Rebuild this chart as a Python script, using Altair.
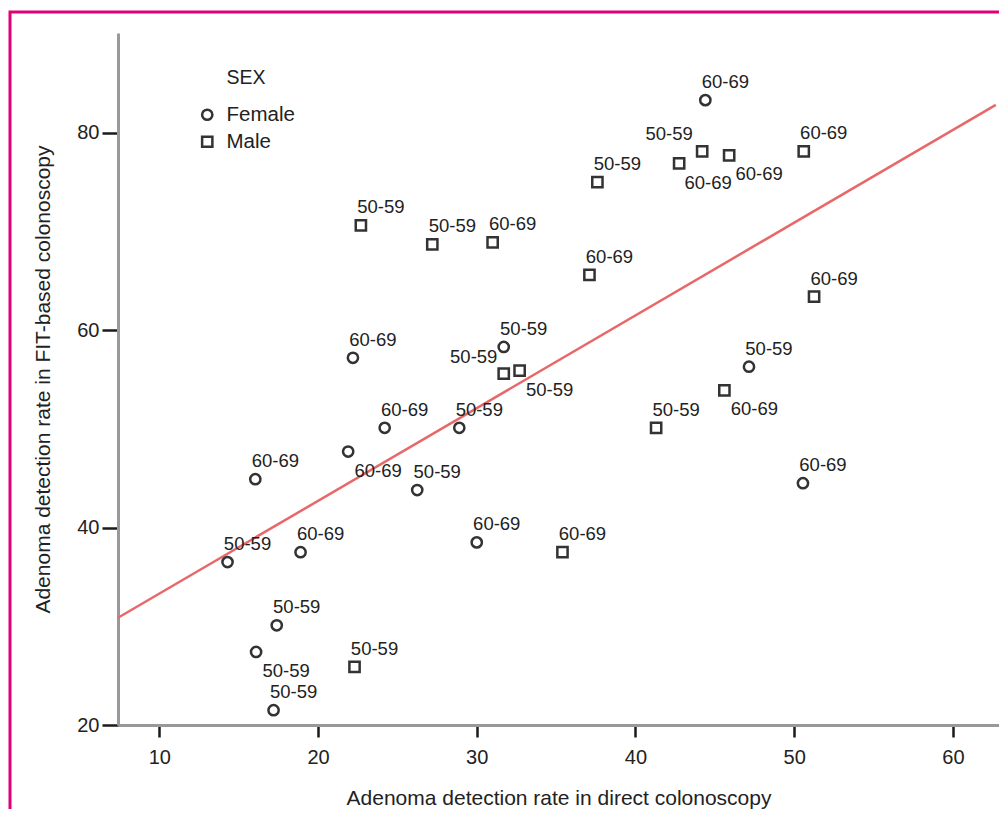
import altair as alt
import pandas as pd

# ---- data ----
sex = ["Female"] * 16 + ["Male"] * 16
direct_rate = [44.4, 22.2, 31.7, 47.15, 24.2, 28.9, 21.9, 16.05, 26.25, 50.55, 30.0, 18.9, 14.3, 17.4, 16.1, 17.2,
               22.7, 27.2, 31.0, 37.6, 37.1, 42.75, 44.2, 45.9, 50.6, 51.25, 31.7, 32.7, 45.6, 41.3, 35.4, 22.3]
fit_rate = [83.3, 57.2, 58.3, 56.3, 50.1, 50.1, 47.7, 44.9, 43.8, 44.5, 38.5, 37.5, 36.5, 30.1, 27.4, 21.5,
            70.6, 68.7, 68.9, 75.0, 65.6, 76.9, 78.1, 77.7, 78.1, 63.4, 55.6, 55.9, 53.9, 50.1, 37.5, 25.9]
age_group = ["60-69", "60-69", "50-59", "50-59", "60-69", "50-59", "60-69", "60-69", "50-59", "60-69", "60-69",
             "60-69", "50-59", "50-59", "50-59", "50-59",
             "50-59", "50-59", "60-69", "50-59", "60-69", "50-59", "60-69", "60-69", "60-69", "60-69", "50-59",
             "50-59", "60-69", "50-59", "60-69", "50-59"]
label_side = ["ur", "ur", "ur", "ur", "ur", "ur", "dr", "ur", "ur", "ur", "ur", "ur", "ur", "ur", "dr", "ur",
              "ur", "ur", "ur", "ur", "ur", "u", "d", "dr", "ur", "ur", "ul", "dr", "dr", "ur", "ur", "ur"]
x_ticks = [10, 20, 30, 40, 50, 60]
y_ticks = [20, 40, 60, 80]

df = pd.DataFrame({"SEX": sex, "x": direct_rate, "y": fit_rate, "age": age_group, "side": label_side})

FONT = "Liberation Sans"
xscale = alt.Scale(domain=[7.4, 62.9], nice=False, zero=False)
yscale = alt.Scale(domain=[20, 90.1], nice=False, zero=False)

base = alt.Chart(df)

xenc = alt.X("x:Q", scale=xscale,
             axis=alt.Axis(values=x_ticks, title="Adenoma detection rate in direct colonoscopy",
                           tickSize=12, labelPadding=10, titlePadding=20))
yenc = alt.Y("y:Q", scale=yscale,
             axis=alt.Axis(values=y_ticks, title="Adenoma detection rate in FIT-based colonoscopy",
                           tickSize=16, labelPadding=3, titlePadding=23))

fit_line = base.transform_regression("x", "y", extent=[7.4, 62.7]).mark_line(
    color="#E8686A", strokeWidth=2.5
).encode(x=alt.X("x:Q", scale=xscale), y=alt.Y("y:Q", scale=yscale))

points = base.mark_point(filled=False, color="#333333", strokeWidth=2.5, size=105, opacity=1).encode(
    x=xenc, y=yenc,
    shape=alt.Shape("SEX:N", scale=alt.Scale(domain=["Female", "Male"], range=["circle", "square"]),
                    legend=alt.Legend(title="SEX", orient="none", legendX=79, legendY=36,
                                      titleAnchor="middle", titleFontSize=19.5, titleFontWeight="normal",
                                      titlePadding=16, labelFontSize=20.5, rowPadding=6, labelOffset=9,
                                      symbolSize=105, symbolStrokeWidth=2.5, symbolStrokeColor="#333333",
                                      padding=0))
)

offsets = {"ur": (20, -18), "dr": (30, 19), "ul": (-30, -17), "u": (-10, -29), "d": (6, 32)}
label_layers = []
for side, (dx, dy) in offsets.items():
    label_layers.append(
        base.transform_filter(alt.datum.side == side).mark_text(
            font=FONT, fontSize=18.5, color="#222222", align="center", baseline="middle", dx=dx, dy=dy
        ).encode(x=alt.X("x:Q", scale=xscale), y=alt.Y("y:Q", scale=yscale), text="age:N")
    )

frame = alt.Chart(pd.DataFrame({"a": [0]})).mark_rect(
    filled=False, stroke="#E2007A", strokeWidth=3
).encode(x=alt.value(-108), y=alt.value(-21), x2=alt.value(1000), y2=alt.value(900))

chart = alt.layer(frame, fit_line, points, *label_layers).properties(
    width=881, height=692,
    autosize=alt.AutoSizeParams(type="none"),
    padding={"left": 110, "top": 25, "right": 0, "bottom": 84},
).configure_view(stroke=None).configure_axis(
    grid=False, domainColor="#999999", domainWidth=3, tickColor="#1a1a1a", tickWidth=2.5,
    labelFont=FONT, titleFont=FONT, labelFontSize=20, titleFontSize=21, titleFontWeight="normal",
    labelColor="#222222", titleColor="#222222"
).configure_legend(labelFont=FONT, titleFont=FONT, labelColor="#222222", titleColor="#222222")

chart.save("out.html", embed_options={"renderer": "svg", "actions": False})
